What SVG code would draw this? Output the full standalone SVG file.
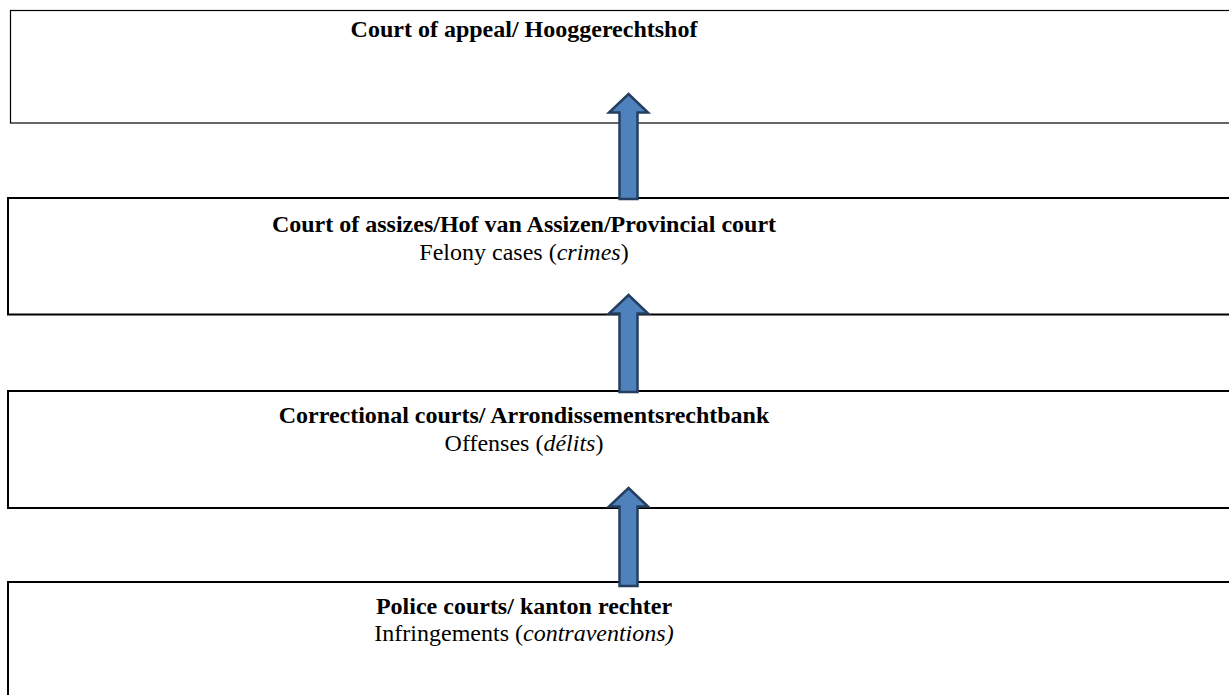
<svg xmlns="http://www.w3.org/2000/svg" width="1229" height="695" viewBox="0 0 1229 695">
<style>
.box{fill:#ffffff;stroke:#000000;stroke-width:2}
.thin{stroke-width:1.2}
.t{font-family:"Liberation Serif","Times New Roman",serif;font-size:24px;fill:#000000;text-anchor:middle}
.b{font-weight:bold}
.arrow{fill:#4F81BD;stroke:#243F60;stroke-width:2.5;stroke-linejoin:miter}
</style>
<rect width="1229" height="695" fill="#ffffff"/>
<g id="node-appeal">
<rect class="box thin" x="10.5" y="10.5" width="1240" height="112.5"/>
<text class="t b" x="524" y="37">Court of appeal/ Hooggerechtshof</text>
</g>
<g id="node-assizes">
<rect class="box" x="8" y="198" width="1240" height="116.5"/>
<text class="t b" x="524" y="232">Court of assizes/Hof van Assizen/Provincial court</text>
<text class="t" x="524" y="260">Felony cases (<tspan font-style="italic">crimes</tspan>)</text>
</g>
<g id="node-correctional">
<rect class="box" x="8" y="391" width="1240" height="117"/>
<text class="t b" x="524" y="423">Correctional courts/ Arrondissementsrechtbank</text>
<text class="t" x="524" y="451">Offenses (<tspan font-style="italic">délits</tspan>)</text>
</g>
<g id="node-police">
<rect class="box" x="8" y="582" width="1240" height="130"/>
<text class="t b" x="524" y="614">Police courts/ kanton rechter</text>
<text class="t" x="524" y="641">Infringements (<tspan font-style="italic">contraventions)</tspan></text>
</g>
<g id="connectors">
<path class="arrow" d="M628.5,94 L648,112.5 L637.5,112.5 L637.5,199 L619.5,199 L619.5,112.5 L609,112.5 Z"/>
<path class="arrow" d="M628.5,295 L648,313.5 L637.5,313.5 L637.5,392 L619.5,392 L619.5,313.5 L609,313.5 Z"/>
<path class="arrow" d="M628.5,488 L648,506.5 L637.5,506.5 L637.5,586 L619.5,586 L619.5,506.5 L609,506.5 Z"/>
</g>
</svg>
